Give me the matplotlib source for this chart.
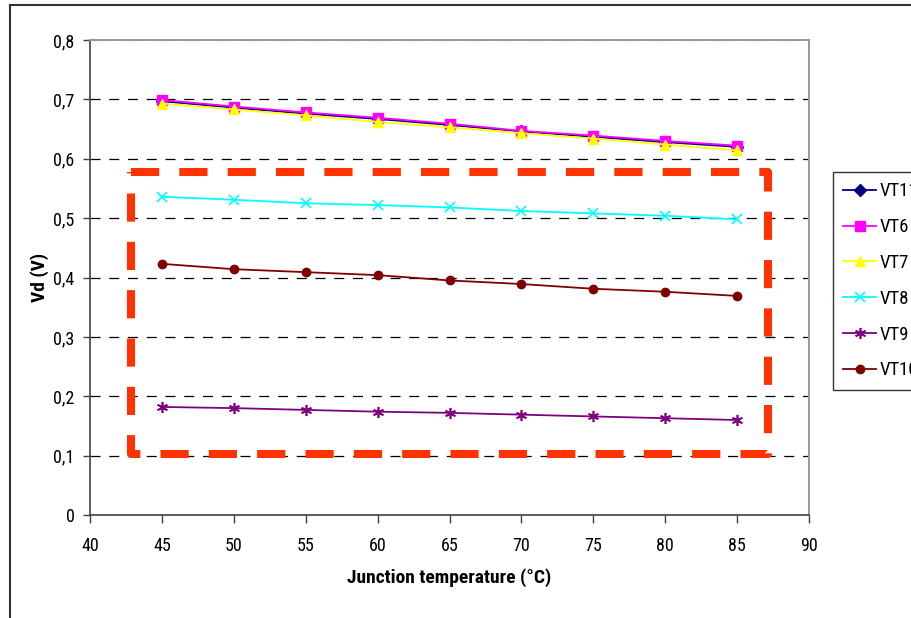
import matplotlib
matplotlib.use("Agg")
import matplotlib.pyplot as plt
from matplotlib.lines import Line2D

plt.rcParams['font.family'] = ['Roboto Condensed', 'Liberation Sans', 'DejaVu Sans']

temps = [45, 50, 55, 60, 65, 70, 75, 80, 85]
vt11 = [0.697, 0.686, 0.676, 0.667, 0.657, 0.646, 0.637, 0.628, 0.620]
vt6 = [0.699, 0.688, 0.678, 0.669, 0.659, 0.647, 0.639, 0.630, 0.622]
vt7 = [0.693, 0.683, 0.673, 0.662, 0.653, 0.643, 0.634, 0.624, 0.614]
vt8 = [0.536, 0.531, 0.525, 0.522, 0.518, 0.512, 0.508, 0.504, 0.498]
vt9 = [0.182, 0.180, 0.177, 0.174, 0.172, 0.169, 0.166, 0.163, 0.160]
vt10 = [0.423, 0.414, 0.409, 0.404, 0.395, 0.389, 0.381, 0.376, 0.369]

series_names = ["VT11", "VT6", "VT7", "VT8", "VT9", "VT10"]
x_ticks = [40, 45, 50, 55, 60, 65, 70, 75, 80, 85, 90]
y_ticks = [0, 0.1, 0.2, 0.3, 0.4, 0.5, 0.6, 0.7, 0.8]
y_tick_labels = ["0", "0,1", "0,2", "0,3", "0,4", "0,5", "0,6", "0,7", "0,8"]
highlight_box = [42.83, 87.18, 0.102, 0.577]  # x0, x1, y0, y1

W, H = 911, 618
fig = plt.figure(figsize=(W / 100, H / 100), dpi=100)
ax = fig.add_axes([90 / W, (H - 515) / H, (809 - 90) / W, (515 - 40) / H])

styles = [
    dict(color="#000080", marker="D", ms=6),
    dict(color="#FF00FF", marker="s", ms=6.5),
    dict(color="#FFFF00", marker="^", ms=7),
    dict(color="#00FFFF", marker="x", ms=7, mew=1.2),
    dict(color="#800080", marker=(6, 2, 0), ms=8, mew=1.2),
    dict(color="#800000", marker="o", ms=6),
]
data = [vt11, vt6, vt7, vt8, vt9, vt10]
handles = []
for name, vals, st in zip(series_names, data, styles):
    h, = ax.plot(temps, vals, lw=1.3, label=name, zorder=3, **st)
    handles.append(h)

# highlight rectangle
x0, x1, y0, y1 = highlight_box
rect = Line2D([x0, x1, x1, x0, x0], [y1, y1, y0, y0, y1], color="#FF3300",
              lw=5.8, solid_capstyle="butt", dash_capstyle="butt",
              dashes=(3.5, 2.5), zorder=4)
ax.add_line(rect)

ax.set_xlim(40, 90)
ax.set_ylim(0, 0.8)
ax.set_xticks(x_ticks)
ax.set_xticklabels([str(t) for t in x_ticks], fontsize=13)
ax.set_yticks(y_ticks)
ax.set_yticklabels(y_tick_labels, fontsize=13)
for yv in y_ticks[1:-1]:
    ax.axhline(yv, color="black", lw=0.9, dashes=(8, 7), zorder=1)
ax.axhline(0.8, color="#808080", lw=1.5, dashes=(8, 7), zorder=1)

ax.tick_params(axis="x", direction="out", length=6, width=1, color="#404040", pad=10)
ax.tick_params(axis="y", direction="out", length=5, width=1, color="#404040", pad=6)
for s in ["left", "bottom"]:
    ax.spines[s].set_color("#404040")
    ax.spines[s].set_linewidth(1.2)
for s in ["top", "right"]:
    ax.spines[s].set_color("#9a9a9a")
    ax.spines[s].set_linewidth(1.5)

ax.set_xlabel("Junction temperature (°C)", fontsize=14, fontweight="bold", labelpad=9)
ax.set_ylabel("Vd (V)", fontsize=14, fontweight="bold", labelpad=3)

leg = fig.legend(handles=handles, loc="upper left",
                 bbox_to_anchor=(833 / W, (H - 172) / H), fontsize=13.5,
                 frameon=True, fancybox=False, borderpad=0.55,
                 handlelength=1.75, handletextpad=0.2, labelspacing=0.95,
                 borderaxespad=0)
leg.get_frame().set_edgecolor("black")
leg.get_frame().set_linewidth(1)

# outer figure border (top and left)
fig.add_artist(Line2D([9.5 / W, 9.5 / W], [0, (H - 4.5) / H], color="#333333", lw=1.5))
fig.add_artist(Line2D([9.5 / W, 1], [(H - 4.5) / H, (H - 4.5) / H], color="#333333", lw=1.5))

fig.savefig("out.png", dpi=100)
